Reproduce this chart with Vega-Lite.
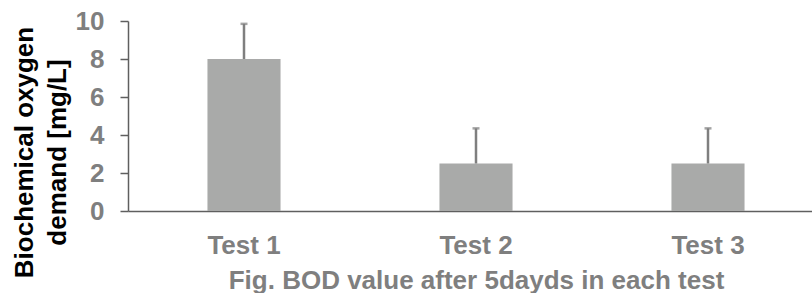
{
  "$schema": "https://vega.github.io/schema/vega-lite/v6.json",
  "width": 696,
  "height": 190,
  "autosize": {"type": "none"},
  "padding": {"left": 128, "top": 21, "right": 0, "bottom": 82},
  "background": "white",
  "config": {
    "view": {"stroke": null},
    "font": "Liberation Sans",
    "axisY": {
      "grid": false,
      "labelOverlap": false,
      "tickSize": 8,
      "tickColor": "#5f5f5f",
      "tickWidth": 1.5,
      "domainColor": "#5f5f5f",
      "domainWidth": 1.5,
      "labelFont": "Liberation Sans",
      "labelFontSize": 26,
      "labelFontWeight": "bold",
      "labelColor": "#7F7F7F",
      "labelPadding": 16,
      "titleFont": "Liberation Sans",
      "titleFontSize": 26,
      "titleFontWeight": "bold",
      "titleColor": "#000000",
      "titleAngle": -90,
      "titleAlign": "center",
      "titleBaseline": "alphabetic",
      "titleLineHeight": 33,
      "titleX": -96,
      "titleY": 131
    },
    "axisX": {
      "labelAngle": 0,
      "ticks": false,
      "tickSize": 0,
      "domainColor": "#5f5f5f",
      "domainWidth": 1.5,
      "labelFont": "Liberation Sans",
      "labelFontSize": 26,
      "labelFontWeight": "bold",
      "labelColor": "#7F7F7F",
      "labelBaseline": "alphabetic",
      "labelPadding": 42,
      "labelOverlap": false,
      "titleFont": "Liberation Sans",
      "titleFontSize": 26,
      "titleFontWeight": "bold",
      "titleColor": "#7F7F7F",
      "titleBaseline": "alphabetic",
      "titleY": 77
    }
  },
  "data": {
    "values": [
      {"test": "Test 1", "bod": 8, "upper": 9.85},
      {"test": "Test 2", "bod": 2.5, "upper": 4.35},
      {"test": "Test 3", "bod": 2.5, "upper": 4.35}
    ]
  },
  "encoding": {
    "x": {
      "field": "test",
      "type": "nominal",
      "sort": null,
      "scale": {"paddingInner": 0.685, "paddingOuter": 0.3425},
      "title": "Fig. BOD value after 5dayds in each test"
    }
  },
  "layer": [
    {
      "mark": {"type": "bar", "color": "#A9AAA9"},
      "encoding": {
        "y": {
          "field": "bod",
          "type": "quantitative",
          "scale": {"domain": [0, 10]},
          "title": ["Biochemical oxygen", "demand [mg/L]"],
          "axis": {"values": [0, 2, 4, 6, 8, 10], "tickCount": 12, "labelOverlap": false}
        }
      }
    },
    {
      "mark": {"type": "rule", "color": "#7F7F7F", "strokeWidth": 2.5},
      "encoding": {
        "y": {
          "field": "bod",
          "type": "quantitative",
          "title": ["Biochemical oxygen", "demand [mg/L]"],
          "axis": {"values": [0, 2, 4, 6, 8, 10], "tickCount": 12, "labelOverlap": false}
        },
        "y2": {"field": "upper"}
      }
    },
    {
      "mark": {"type": "tick", "color": "#7F7F7F", "thickness": 2.5, "size": 7},
      "encoding": {
        "y": {
          "field": "upper",
          "type": "quantitative",
          "title": ["Biochemical oxygen", "demand [mg/L]"],
          "axis": {"values": [0, 2, 4, 6, 8, 10], "tickCount": 12, "labelOverlap": false}
        }
      }
    }
  ]
}
